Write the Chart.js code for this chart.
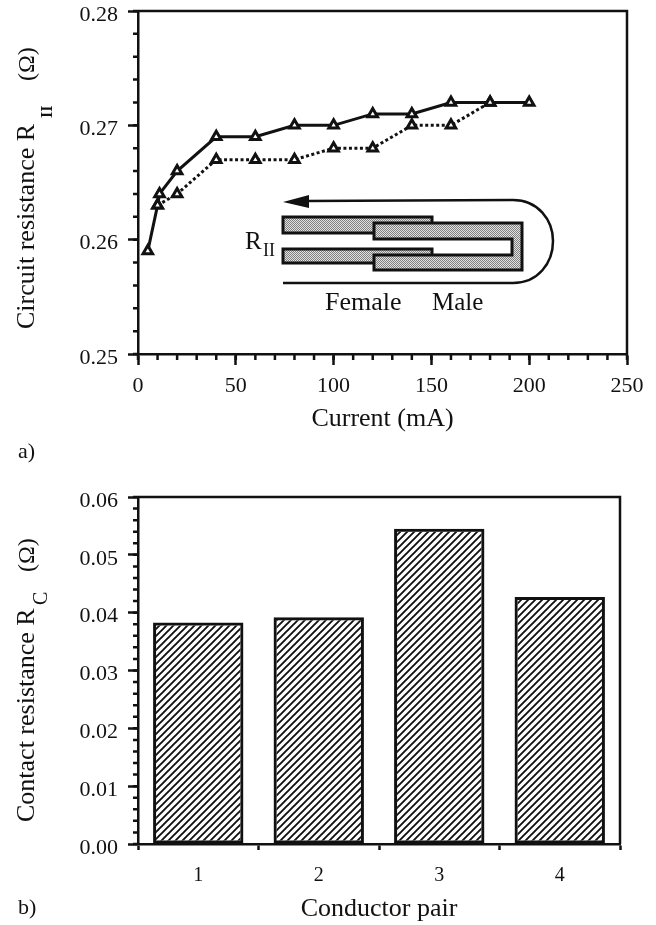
<!DOCTYPE html>
<html>
<head>
<meta charset="utf-8">
<script src="https://cdn.jsdelivr.net/npm/chart.js@4/dist/chart.umd.min.js"></script>
<style>
  html, body { margin: 0; padding: 0; background: #fff; }
  canvas { display: block; }
</style>
</head>
<body>
<canvas id="chartA" width="656" height="470"></canvas>
<canvas id="chartB" width="656" height="455"></canvas>
<script>
// panel a) circuit resistance vs current
const solidCurrent = [5, 10, 11, 20, 40, 60, 80, 100, 120, 140, 160, 180, 200];
const solidResistance = [0.259, 0.263, 0.264, 0.266, 0.269, 0.269, 0.270, 0.270, 0.271, 0.271, 0.272, 0.272, 0.272];
const dottedCurrent = [10, 20, 40, 60, 80, 100, 120, 140, 160, 180];
const dottedResistance = [0.263, 0.264, 0.267, 0.267, 0.267, 0.268, 0.268, 0.270, 0.270, 0.272];

// panel b) contact resistance per conductor pair
const conductorPairs = ['1', '2', '3', '4'];
const contactResistance = [0.0383, 0.0392, 0.0545, 0.0427];

const FONT = '"Liberation Serif", serif';
const tickFont = { family: FONT, size: 22 };
const titleFont = { family: FONT, size: 26 };

Chart.defaults.color = '#111';
Chart.defaults.animation = false;

function hatchPattern() {
    const c = document.createElement('canvas');
    c.width = c.height = 7;
    const g = c.getContext('2d');
    g.strokeStyle = '#111';
    g.lineWidth = 1.9;
    g.beginPath();
    g.moveTo(-1, 8); g.lineTo(8, -1);
    g.moveTo(-1, 1); g.lineTo(1, -1);
    g.moveTo(6, 8); g.lineTo(8, 6);
    g.stroke();
    return c;
}

function stipplePattern() {
    const c = document.createElement('canvas');
    c.width = c.height = 2;
    const g = c.getContext('2d');
    g.fillStyle = '#e2e2e2';
    g.fillRect(0, 0, 2, 2);
    g.fillStyle = '#808080';
    g.fillRect(0, 0, 1, 1);
    g.fillRect(1, 1, 1, 1);
    return c;
}

// top and right edge of the frame, plus the short minor ticks
const framePlugin = {
    id: 'frame',
    afterDraw(chart, args, opts) {
        const { ctx, chartArea: a, scales } = chart;
        ctx.save();
        ctx.strokeStyle = '#111';
        ctx.lineWidth = 2.5;
        ctx.beginPath();
        ctx.moveTo(a.left, a.top);
        ctx.lineTo(a.right, a.top);
        ctx.lineTo(a.right, a.bottom);
        ctx.stroke();
        ctx.beginPath();
        (opts.minorX || []).forEach(v => {
            const x = scales.x.getPixelForValue(v);
            ctx.moveTo(x, a.bottom);
            ctx.lineTo(x, a.bottom + 6);
        });
        (opts.minorY || []).forEach(v => {
            const y = scales.y.getPixelForValue(v);
            ctx.moveTo(a.left, y);
            ctx.lineTo(a.left - 5, y);
        });
        ctx.stroke();
        ctx.restore();
    }
};

// rotated axis title with its subscript, and the a) / b) panel letter
function drawSideText(ctx, t) {
    ctx.save();
    ctx.translate(t.x, t.y);
    ctx.rotate(-Math.PI / 2);
    ctx.font = (t.bold ? 'bold ' : '') + t.size + 'px ' + FONT;
    ctx.textAlign = 'left';
    ctx.textBaseline = 'alphabetic';
    ctx.fillText(t.text, 0, 0);
    ctx.restore();
}

const labelsPlugin = {
    id: 'labels',
    afterDraw(chart, args, opts) {
        const ctx = chart.ctx;
        ctx.save();
        ctx.fillStyle = '#111';
        (opts.side || []).forEach(t => drawSideText(ctx, t));
        (opts.flat || []).forEach(t => {
            ctx.font = t.size + 'px ' + FONT;
            ctx.textAlign = 'left';
            ctx.textBaseline = 'alphabetic';
            ctx.fillText(t.text, t.x, t.y);
        });
        ctx.restore();
    }
};

// connector sketch inside panel a)
const insetPlugin = {
    id: 'inset',
    afterDatasetsDraw(chart) {
        if (chart.canvas.id !== 'chartA') return;
        const ctx = chart.ctx;
        const fill = ctx.createPattern(stipplePattern(), 'repeat');
        ctx.save();
        ctx.strokeStyle = '#111';
        ctx.fillStyle = fill;
        ctx.lineWidth = 3;
        ctx.fillRect(283, 217, 149, 16); ctx.strokeRect(283, 217, 149, 16);
        ctx.fillRect(283, 249, 149, 14); ctx.strokeRect(283, 249, 149, 14);
        ctx.beginPath();
        ctx.moveTo(374, 223);
        ctx.lineTo(522, 223);
        ctx.lineTo(522, 270);
        ctx.lineTo(374, 270);
        ctx.lineTo(374, 255);
        ctx.lineTo(512, 255);
        ctx.lineTo(512, 239);
        ctx.lineTo(374, 239);
        ctx.closePath();
        ctx.fill();
        ctx.stroke();

        ctx.lineWidth = 2.5;
        ctx.beginPath();
        ctx.moveTo(305, 201);
        ctx.lineTo(513, 200);
        ctx.bezierCurveTo(538, 200, 553, 220, 553, 241);
        ctx.bezierCurveTo(553, 263, 538, 283, 513, 283);
        ctx.lineTo(283, 283);
        ctx.stroke();
        ctx.fillStyle = '#111';
        ctx.beginPath();
        ctx.moveTo(283, 202);
        ctx.lineTo(309, 195);
        ctx.lineTo(309, 208);
        ctx.closePath();
        ctx.fill();
        ctx.restore();
    }
};

Chart.register(framePlugin, labelsPlugin, insetPlugin);

function range(from, to, step) {
    const out = [];
    for (let i = 0; from + i * step <= to + step / 2; i++) out.push(+(from + i * step).toFixed(4));
    return out;
}

const triangles = {
    pointStyle: 'triangle',
    pointRadius: 5.5,
    pointBorderWidth: 3,
    pointBorderColor: '#111',
    pointBackgroundColor: '#fff',
    borderColor: '#111',
    tension: 0,
    fill: false
};

new Chart(document.getElementById('chartA'), {
    type: 'line',
    data: {
        datasets: [
            {
                ...triangles,
                label: 'dotted',
                data: dottedCurrent.map((x, i) => ({ x, y: dottedResistance[i] })),
                borderWidth: 3,
                borderDash: [3, 2.5]
            },
            {
                ...triangles,
                label: 'solid',
                data: solidCurrent.map((x, i) => ({ x, y: solidResistance[i] })),
                borderWidth: 3
            }
        ]
    },
    options: {
        responsive: false,
        layout: { padding: { left: 0, right: 29, top: 11, bottom: 31 } },
        scales: {
            x: {
                type: 'linear', min: 0, max: 250,
                afterFit: s => { s.height = 85; },
                ticks: { stepSize: 50, font: tickFont, color: '#111', padding: 8, maxRotation: 0 },
                grid: { drawOnChartArea: false, tickLength: 11, tickColor: '#111', tickWidth: 2.5 },
                border: { color: '#111', width: 2.5 },
                title: { display: true, text: 'Current (mA)', font: titleFont, color: '#111' }
            },
            y: {
                type: 'linear', min: 0.25, max: 0.28,
                afterFit: s => { s.width = 138; s.paddingTop = 0; s.paddingBottom = 0; },
                ticks: { stepSize: 0.01, font: tickFont, color: '#111', padding: 10, labelOffset: 4, callback: v => v.toFixed(2) },
                grid: { drawOnChartArea: false, tickLength: 10, tickColor: '#111', tickWidth: 2.5 },
                border: { color: '#111', width: 2.5 }
            }
        },
        plugins: {
            legend: { display: false },
            tooltip: { enabled: false },
            frame: { minorX: range(0, 250, 10), minorY: range(0.25, 0.28, 0.002) },
            labels: {
                side: [
                    { text: 'Circuit resistance R', x: 34, y: 329, size: 26 },
                    { text: 'II', x: 52, y: 118, size: 16, bold: true },
                    { text: '(Ω)', x: 34, y: 81, size: 24 }
                ],
                flat: [
                    { text: 'R', x: 245, y: 249, size: 25 },
                    { text: 'II', x: 263, y: 256, size: 18 },
                    { text: 'Female', x: 325, y: 310, size: 26 },
                    { text: 'Male', x: 432, y: 310, size: 25 },
                    { text: 'a)', x: 18, y: 458, size: 22 }
                ]
            }
        }
    }
});

const hatch = document.createElement('canvas').getContext('2d').createPattern(hatchPattern(), 'repeat');

new Chart(document.getElementById('chartB'), {
    type: 'bar',
    data: {
        labels: conductorPairs,
        datasets: [{
            data: contactResistance,
            backgroundColor: hatch,
            borderColor: '#111',
            borderWidth: 3,
            borderSkipped: false,
            barPercentage: 0.75,
            categoryPercentage: 1
        }]
    },
    options: {
        responsive: false,
        layout: { padding: { left: 0, right: 36, top: 27, bottom: 0 } },
        scales: {
            x: {
                afterFit: s => { s.height = 81; },
                ticks: { font: { family: FONT, size: 20 }, color: '#111', padding: 14, maxRotation: 0 },
                grid: { drawOnChartArea: false, offset: true, tickLength: 6, tickColor: '#111', tickWidth: 2.5 },
                border: { color: '#111', width: 2.5 },
                title: { display: true, text: 'Conductor pair', font: titleFont, color: '#111', padding: { top: 0, bottom: 0 } }
            },
            y: {
                type: 'linear', min: 0, max: 0.06,
                afterFit: s => { s.width = 138; s.paddingTop = 0; s.paddingBottom = 0; },
                ticks: { stepSize: 0.01, font: tickFont, color: '#111', padding: 10, labelOffset: 4, callback: v => v.toFixed(2) },
                grid: { drawOnChartArea: false, tickLength: 10, tickColor: '#111', tickWidth: 2.5 },
                border: { color: '#111', width: 2.5 }
            }
        },
        plugins: {
            legend: { display: false },
            tooltip: { enabled: false },
            frame: { minorY: range(0, 0.06, 0.002) },
            labels: {
                side: [
                    { text: 'Contact resistance R', x: 34, y: 352, size: 26 },
                    { text: 'C', x: 47, y: 135, size: 20 },
                    { text: '(Ω)', x: 34, y: 102, size: 24 }
                ],
                flat: [
                    { text: 'b)', x: 18, y: 444, size: 22 }
                ]
            }
        }
    }
});
</script>
</body>
</html>
